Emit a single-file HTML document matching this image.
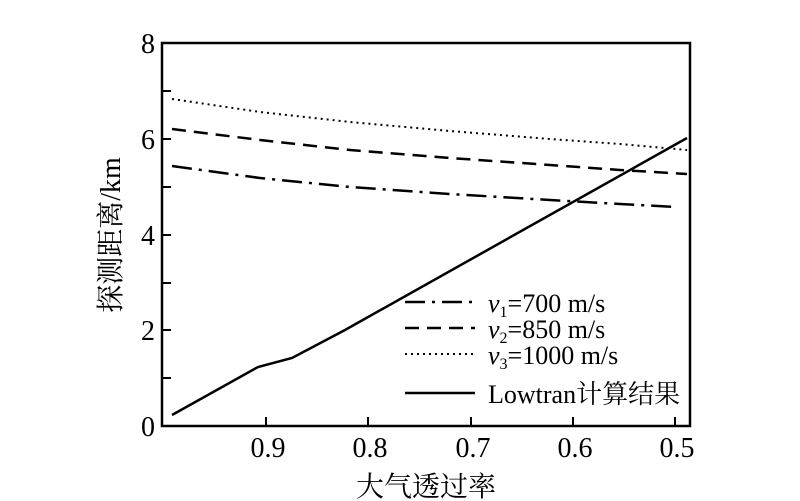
<!DOCTYPE html>
<html><head><meta charset="utf-8"><style>
body{margin:0;background:#fff}
svg{display:block}
text{font-family:"Liberation Serif","Noto Serif CJK SC",serif;fill:#000}
</style></head><body>
<svg width="800" height="501" viewBox="0 0 800 501">
<g stroke="#000" stroke-width="2.5" fill="none">
<rect x="162" y="43" width="528" height="383"/>
</g>
<g stroke="#000" stroke-width="2">
<line x1="162" y1="91" x2="171" y2="91"/><line x1="162" y1="139" x2="171" y2="139"/>
<line x1="162" y1="187" x2="171" y2="187"/><line x1="162" y1="235" x2="171" y2="235"/>
<line x1="162" y1="283" x2="171" y2="283"/><line x1="162" y1="330" x2="171" y2="330"/>
<line x1="162" y1="378" x2="171" y2="378"/>
<line x1="266" y1="426" x2="266" y2="417"/><line x1="368" y1="426" x2="368" y2="417"/>
<line x1="471" y1="426" x2="471" y2="417"/><line x1="573" y1="426" x2="573" y2="417"/>
<line x1="675" y1="426" x2="675" y2="417"/>
</g>
<g font-size="28" text-anchor="end">
<text x="155" y="53">8</text><text x="155" y="149">6</text><text x="155" y="245">4</text>
<text x="155" y="340">2</text><text x="155" y="436">0</text>
</g>
<g font-size="28" text-anchor="middle">
<text x="268" y="457">0.9</text><text x="370" y="457">0.8</text><text x="473" y="457">0.7</text>
<text x="575" y="457">0.6</text><text x="677" y="457">0.5</text>
</g>
<text x="426" y="496" font-size="28" text-anchor="middle">大气透过率</text>
<text transform="translate(120,235) rotate(-90)" font-size="28" text-anchor="middle">探测距离/km</text>
<g fill="none" stroke="#000">
<polyline stroke-width="2.5" points="172,415 258,367 292,358 345,330 687,138"/>
<polyline stroke-width="2" stroke-dasharray="2,4" points="172,99 260,112 350,122 450,131 550,139 620,144 687,150"/>
<polyline stroke-width="2.5" stroke-dasharray="14,8" points="172,129 260,140 350,150 450,158 550,165 620,170 687,174"/>
<polyline stroke-width="2.5" stroke-dasharray="20,7,3,7" points="172,166 260,178 350,187 450,194 550,200 620,204 677,207"/>
<line x1="405" y1="302" x2="475" y2="302" stroke-width="2.5" stroke-dasharray="20,7,3,7"/>
<line x1="405" y1="328" x2="475" y2="328" stroke-width="2.5" stroke-dasharray="14,8"/>
<line x1="405" y1="354" x2="475" y2="354" stroke-width="2" stroke-dasharray="2,4"/>
<line x1="405" y1="393" x2="475" y2="393" stroke-width="2.5"/>
</g>
<g font-size="26">
<text x="488" y="312"><tspan font-style="italic">v</tspan><tspan font-size="16" dy="5">1</tspan><tspan dy="-5">=700 m/s</tspan></text>
<text x="488" y="338"><tspan font-style="italic">v</tspan><tspan font-size="16" dy="5">2</tspan><tspan dy="-5">=850 m/s</tspan></text>
<text x="488" y="364"><tspan font-style="italic">v</tspan><tspan font-size="16" dy="5">3</tspan><tspan dy="-5">=1000 m/s</tspan></text>
<text x="488" y="403">Lowtran计算结果</text>
</g>
</svg>
</body></html>
